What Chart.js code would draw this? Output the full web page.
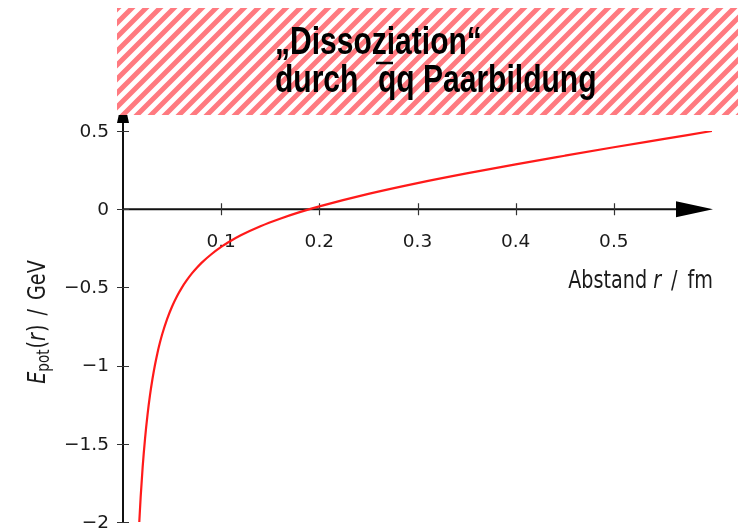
<!DOCTYPE html>
<html>
<head>
<meta charset="utf-8">
<script src="https://cdn.jsdelivr.net/npm/chart.js@4.4.1/dist/chart.umd.min.js"></script>
<style>
  html, body { margin: 0; padding: 0; background: #fff; }
  canvas { display: block; }
</style>
</head>
<body>
<canvas id="potChart" width="738" height="529"></canvas>
<script>
// Abstand r in fm
const abstand = [0.0166, 0.018, 0.02, 0.0225, 0.025, 0.0275, 0.03, 0.0325, 0.035, 0.0375,
                 0.04, 0.045, 0.05, 0.055, 0.06, 0.065, 0.07, 0.075, 0.08, 0.09,
                 0.1, 0.11, 0.12, 0.14, 0.16, 0.18, 0.2, 0.25, 0.3, 0.35,
                 0.4, 0.45, 0.5, 0.55, 0.6];
// potentielle Energie in GeV
const energie = [-2.0, -1.839, -1.651, -1.464, -1.313, -1.189, -1.086, -0.998, -0.922, -0.856,
                 -0.798, -0.701, -0.622, -0.556, -0.501, -0.454, -0.412, -0.376, -0.343, -0.288,
                 -0.241, -0.202, -0.167, -0.109, -0.061, -0.019, 0.018, 0.098, 0.167, 0.229,
                 0.287, 0.342, 0.396, 0.448, 0.5];

// tick labels
const xTicks = [0.1, 0.2, 0.3, 0.4, 0.5];
const yTicks = [0.5, 0, -0.5, -1, -1.5, -2];

// texte
const titelZeile1 = '„Dissoziation“';
const titelDurch = 'durch';
const titelRest = 'qq Paarbildung';

const punkte = abstand.map((r, i) => ({ x: r, y: energie[i] }));

// minus wie im original
const fmt = v => (v < 0 ? '\u2212' : '') + String(Math.abs(v));

// schraffur für den kasten oben
function schraffur(ctx) {
  const c = document.createElement('canvas');
  c.width = 14; c.height = 14;
  const p = c.getContext('2d');
  p.fillStyle = '#fff';
  p.fillRect(0, 0, 14, 14);
  p.strokeStyle = 'rgb(255,122,128)';
  p.lineWidth = 5;
  p.beginPath();
  p.moveTo(-7, 7); p.lineTo(7, -7);
  p.moveTo(0, 14); p.lineTo(14, 0);
  p.moveTo(7, 21); p.lineTo(21, 7);
  p.stroke();
  return ctx.createPattern(c, 'repeat');
}

const achsenPlugin = {
  id: 'achsen',
  beforeDatasetsDraw(chart) {
    const { ctx, chartArea, scales: { x, y } } = chart;
    const x0 = x.getPixelForValue(0);
    const y0 = y.getPixelForValue(0);
    ctx.save();

    // achsen
    ctx.strokeStyle = '#111';
    ctx.lineWidth = 2;
    ctx.beginPath();
    ctx.moveTo(x0, y.getPixelForValue(-2) + 1);
    ctx.lineTo(x0, chartArea.top - 12);
    ctx.moveTo(x0, y0);
    ctx.lineTo(chartArea.right - 30, y0);
    ctx.stroke();

    // pfeilspitzen
    ctx.fillStyle = '#000';
    ctx.beginPath();
    ctx.moveTo(x0 - 6, chartArea.top - 8);
    ctx.lineTo(x0 + 6, chartArea.top - 8);
    ctx.lineTo(x0, chartArea.top - 36);
    ctx.closePath();
    ctx.fill();
    ctx.beginPath();
    ctx.moveTo(chartArea.right - 36, y0 - 8);
    ctx.lineTo(chartArea.right + 1, y0);
    ctx.lineTo(chartArea.right - 36, y0 + 8);
    ctx.closePath();
    ctx.fill();

    // ticks
    ctx.strokeStyle = '#333';
    ctx.lineWidth = 1.2;
    ctx.beginPath();
    xTicks.forEach(v => {
      const px = Math.round(x.getPixelForValue(v)) + 0.5;
      ctx.moveTo(px, y0 - 6); ctx.lineTo(px, y0 + 6);
    });
    yTicks.forEach(v => {
      const py = Math.round(y.getPixelForValue(v)) + 0.5;
      ctx.moveTo(x0 - 6, py); ctx.lineTo(x0 + 6, py);
    });
    ctx.stroke();

    // tick labels
    ctx.fillStyle = '#1a1a1a';
    ctx.font = '18.5px "DejaVu Sans"';
    ctx.textAlign = 'center';
    ctx.textBaseline = 'alphabetic';
    xTicks.forEach(v => ctx.fillText(fmt(v), x.getPixelForValue(v), y0 + 38));
    ctx.textAlign = 'right';
    ctx.textBaseline = 'middle';
    yTicks.forEach(v => ctx.fillText(fmt(v), x0 - 14, y.getPixelForValue(v) + 1));

    // x achsentitel: Abstand r / fm
    const sx = 0.8;
    const normal = '24px "DejaVu Sans"';
    const kursiv = 'italic 24px "DejaVu Sans"';
    const teile = [
      ['Abstand', normal, 0], ['r', kursiv, 6], ['/', normal, 10], ['fm', normal, 10]
    ];
    let breite = 0;
    teile.forEach(t => { ctx.font = t[1]; breite += t[2] + ctx.measureText(t[0]).width * sx; });
    let cx = chartArea.right + 1 - breite;
    ctx.textAlign = 'left';
    ctx.textBaseline = 'alphabetic';
    teile.forEach(t => {
      ctx.font = t[1];
      cx += t[2];
      ctx.save();
      ctx.translate(cx, 288);
      ctx.scale(sx, 1);
      ctx.fillText(t[0], 0, 0);
      ctx.restore();
      cx += ctx.measureText(t[0]).width * sx;
    });

    // y achsentitel: E_pot(r) / GeV
    const yt = [
      ['E', kursiv, 0, 0], ['pot', '17px "DejaVu Sans"', 0, 4], ['(', normal, 1, 0],
      ['r', kursiv, 0, 0], [')', normal, 1, 0], ['/', normal, 9, 0], ['GeV', normal, 9, 0]
    ];
    let lang = 0;
    yt.forEach(t => { ctx.font = t[1]; lang += t[2] + ctx.measureText(t[0]).width * sx; });
    ctx.save();
    ctx.translate(45, 322);
    ctx.rotate(-Math.PI / 2);
    let lx = -lang / 2;
    yt.forEach(t => {
      ctx.font = t[1];
      lx += t[2];
      ctx.save();
      ctx.translate(lx, t[3]);
      ctx.scale(sx, 1);
      ctx.fillText(t[0], 0, 0);
      ctx.restore();
      lx += ctx.measureText(t[0]).width * sx;
    });
    ctx.restore();

    ctx.restore();
  },
  afterDraw(chart) {
    const { ctx } = chart;
    ctx.save();
    // gestreifter kasten oben
    ctx.fillStyle = schraffur(ctx);
    ctx.fillRect(117, 8, 621, 107);

    // titel
    ctx.fillStyle = '#000';
    ctx.font = 'bold 38px "Liberation Sans", Arial, sans-serif';
    ctx.textAlign = 'left';
    ctx.textBaseline = 'alphabetic';
    const sx = 0.79;
    const zeile = (txt, px, py) => {
      ctx.save();
      ctx.translate(px, py);
      ctx.scale(sx, 1);
      ctx.fillText(txt, 0, 0);
      ctx.restore();
    };
    zeile(titelZeile1, 275, 54);
    zeile(titelDurch, 275, 92);
    zeile(titelRest, 378, 92);
    // strich über dem ersten q (antiquark)
    ctx.strokeStyle = '#000';
    ctx.lineWidth = 2.5;
    ctx.beginPath();
    ctx.moveTo(376, 63);
    ctx.lineTo(393, 63);
    ctx.stroke();
    ctx.restore();
  }
};

const ctx = document.getElementById('potChart').getContext('2d');

const potChart = new Chart(ctx, {
  type: 'line',
  data: {
    datasets: [{
      label: 'E_pot',
      data: punkte,
      borderColor: '#ff1a1a',
      borderWidth: 2.2,
      pointRadius: 0,
      fill: false,
      cubicInterpolationMode: 'monotone'
    }]
  },
  options: {
    responsive: false,
    devicePixelRatio: 1,
    animation: false,
    layout: { padding: { left: 123, right: 26, top: 131, bottom: 7 } },
    plugins: { legend: { display: false }, tooltip: { enabled: false } },
    scales: {
      x: { type: 'linear', min: 0, max: 0.6, display: false },
      y: { type: 'linear', min: -2, max: 0.5, display: false }
    }
  },
  plugins: [achsenPlugin]
});
</script>
</body>
</html>
